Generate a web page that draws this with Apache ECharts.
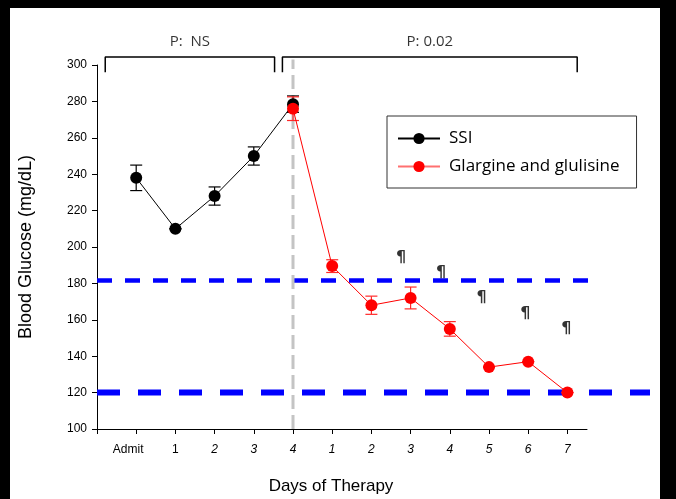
<!DOCTYPE html>
<html>
<head>
<meta charset="utf-8">
<script src="https://cdn.jsdelivr.net/npm/echarts@6/dist/echarts.min.js"></script>
<style>
  html, body { margin: 0; padding: 0; background: #000; }
  #main { position: absolute; left: 10px; top: 8px; width: 650px; height: 491px; background: #fff; }
</style>
</head>
<body>
<div id="main"></div>
<script>
// tick labels along the x axis (position 0 = Admit)
var dayLabels = ['Admit', '1', '2', '3', '4', '1', '2', '3', '4', '5', '6', '7'];

// SSI group
var ssiDays = [0, 1, 2, 3, 4];
var ssiMean = [238, 210, 228, 250, 278.5];
var ssiErr = [7, 0, 5, 5, 4.5];

// Glargine and glulisine group
var gluDays = [4, 5, 6, 7, 8, 9, 10, 11];
var gluMean = [276, 189.5, 168, 172, 155, 134, 137, 120];
var gluErr = [6.5, 3.5, 5, 6, 4, 0, 0, 0];

// significance marks
var markDays = [6.76, 7.78, 8.81, 9.93, 10.97];
var markVals = [194, 186, 172, 163, 155];

// target glucose lines
var targetHigh = 181.6;
var targetLow = 120;

// brackets at the top: [start, end], label
var bracketSpans = [[-0.79, 3.53], [3.73, 11.25]];
var bracketTexts = ['P:  NS', 'P: 0.02'];

var chart = echarts.init(document.getElementById('main'));

function errData(days, mean, err) {
    return days.map(function (d, i) { return [d, mean[i] - err[i], mean[i] + err[i]]; });
}

function errSeries(data, color) {
    return {
        type: 'custom',
        xAxisIndex: 0, yAxisIndex: 0,
        data: data,
        z: 3,
        renderItem: function (params, api) {
            var x = api.value(0);
            var lo = api.coord([x, api.value(1)]);
            var hi = api.coord([x, api.value(2)]);
            var w = 6;
            var style = { stroke: color, lineWidth: 1.2 };
            return {
                type: 'group',
                children: [
                    { type: 'line', shape: { x1: lo[0], y1: lo[1], x2: hi[0], y2: hi[1] }, style: style },
                    { type: 'line', shape: { x1: lo[0] - w, y1: lo[1], x2: lo[0] + w, y2: lo[1] }, style: style },
                    { type: 'line', shape: { x1: hi[0] - w, y1: hi[1], x2: hi[0] + w, y2: hi[1] }, style: style }
                ]
            };
        }
    };
}

var series = [];

// blue target lines on the wider grid
series.push({
    type: 'line', xAxisIndex: 1, yAxisIndex: 1, symbol: 'none', silent: true,
    data: [[-1, targetHigh], [11.59, targetHigh]],
    lineStyle: { color: '#0000ff', width: 4.5, type: [15, 13] }, z: 1
});
series.push({
    type: 'line', xAxisIndex: 1, yAxisIndex: 1, symbol: 'none', silent: true,
    data: [[-1, targetLow], [13.12, targetLow]],
    lineStyle: { color: '#0000ff', width: 6, type: [23, 18] }, z: 1
});

// gray dashed separator
series.push({
    type: 'line', xAxisIndex: 0, yAxisIndex: 0, symbol: 'none', clip: false, silent: true,
    data: [[4, 100], [4, 303]],
    lineStyle: { color: '#c4c4c4', width: 3, type: [14, 6] }, z: 1
});

// brackets
bracketSpans.forEach(function (s, i) {
    series.push({
        type: 'line', xAxisIndex: 0, yAxisIndex: 0, symbol: 'none', clip: false, silent: true,
        data: [[s[0], 296], [s[0], 304.4], [s[1], 304.4], [s[1], 296]],
        lineStyle: { color: '#000', width: 1.5 }, z: 2
    });
});
series.push({
    type: 'scatter', xAxisIndex: 0, yAxisIndex: 0, clip: false, symbolSize: 0, silent: true,
    data: bracketSpans.map(function (s, i) { return { value: [(s[0] + s[1]) / 2, 312.6], name: bracketTexts[i] }; }),
    label: {
        show: true, position: 'inside', formatter: '{b}',
        color: '#000', fontFamily: 'Open Sans', fontSize: 15
    }
});

// data
series.push(errSeries(errData(ssiDays, ssiMean, ssiErr), '#000'));
series.push({
    name: 'SSI', type: 'line', xAxisIndex: 0, yAxisIndex: 0,
    data: ssiDays.map(function (d, i) { return [d, ssiMean[i]]; }),
    symbol: 'circle', symbolSize: 12, z: 4,
    itemStyle: { color: '#000' },
    lineStyle: { color: '#000', width: 1 }
});
series.push(errSeries(errData(gluDays, gluMean, gluErr), '#ff2a2a'));
series.push({
    name: 'Glargine and glulisine', type: 'line', xAxisIndex: 0, yAxisIndex: 0,
    data: gluDays.map(function (d, i) { return [d, gluMean[i]]; }),
    symbol: 'circle', symbolSize: 12, z: 5,
    itemStyle: { color: '#ff0000' },
    lineStyle: { color: '#ff0000', width: 1 }
});

// paragraph marks
series.push({
    type: 'scatter', xAxisIndex: 0, yAxisIndex: 0, symbolSize: 0, silent: true,
    data: markDays.map(function (d, i) { return [d, markVals[i]]; }),
    label: {
        show: true, position: 'inside', formatter: '\u00b6',
        color: '#000', fontFamily: 'DejaVu Sans', fontWeight: 'bold', fontSize: 16
    }
});

var option = {
    backgroundColor: '#fff',
    animation: false,
    grid: [
        { left: 87, top: 57, width: 490, height: 364, outerBoundsMode: 'none' },
        { left: 87, top: 57, width: 553, height: 364, outerBoundsMode: 'none' }
    ],
    legend: {
        data: ['SSI', { name: 'Glargine and glulisine', lineStyle: { color: '#ff7070' } }],
        orient: 'vertical',
        left: 377, top: 108,
        padding: [14, 17, 13, 10],
        itemWidth: 42, itemHeight: 14, itemGap: 11,
        borderColor: '#333', borderWidth: 1,
        textStyle: { fontFamily: 'Open Sans', fontSize: 17, color: '#000', padding: [0, 0, 0, 4] }
    },
    xAxis: [
        {
            type: 'value', gridIndex: 0, min: -1, max: 11.5, interval: 1,
            name: 'Days of Therapy', nameLocation: 'middle', nameGap: 49,
            nameTextStyle: { fontFamily: 'Liberation Sans', fontSize: 17, color: '#000', padding: [0, 22, 0, 0] },
            axisLine: { onZero: false, lineStyle: { color: '#000', width: 1 } },
            axisTick: { length: 5, lineStyle: { color: '#000' } },
            splitLine: { show: false },
            axisLabel: {
                margin: 15, showMaxLabel: false,
                fontFamily: 'Liberation Sans', fontSize: 12, color: '#000',
                formatter: function (v) {
                    var t = dayLabels[Math.round(v)];
                    if (v < 0 || t === undefined) return '';
                    if (v === 0) return '{a|' + t + '}';
                    if (v === 1) return '{n|' + t + '}';
                    return '{i|' + t + '}';
                },
                rich: {
                    a: { fontFamily: 'Liberation Sans', fontSize: 12, color: '#000', padding: [0, 16, 0, 0] },
                    n: { fontFamily: 'Liberation Sans', fontSize: 12, color: '#000' },
                    i: { fontFamily: 'Liberation Sans', fontSize: 12, color: '#000', fontStyle: 'italic' }
                }
            }
        },
        {
            type: 'value', gridIndex: 1, min: -1, max: 13.12, show: false
        }
    ],
    yAxis: [
        {
            type: 'value', gridIndex: 0, min: 100, max: 300, interval: 20,
            name: 'Blood Glucose (mg/dL)', nameLocation: 'middle', nameGap: 62,
            nameTextStyle: { fontFamily: 'Liberation Sans', fontSize: 18, color: '#000' },
            axisLine: { show: true, onZero: false, lineStyle: { color: '#000', width: 1 } },
            axisTick: { show: true, length: 5, lineStyle: { color: '#000' } },
            splitLine: { show: false },
            axisLabel: { margin: 10, fontFamily: 'Liberation Sans', fontSize: 12, color: '#000' }
        },
        {
            type: 'value', gridIndex: 1, min: 100, max: 300, show: false
        }
    ],
    series: series
};

chart.setOption(option);
</script>
</body>
</html>
